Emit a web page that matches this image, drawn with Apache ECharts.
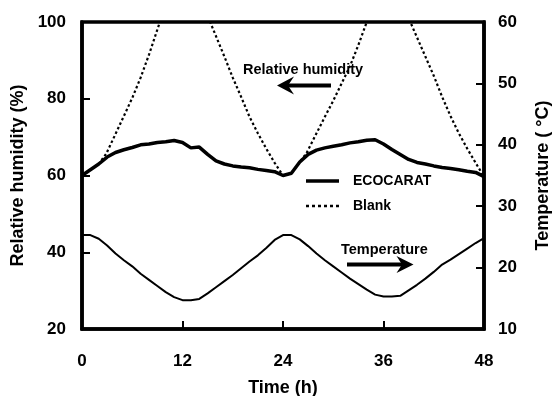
<!DOCTYPE html>
<html>
<head>
<meta charset="utf-8">
<script src="https://cdn.jsdelivr.net/npm/echarts@6/dist/echarts.min.js"></script>
<style>
html,body{margin:0;padding:0;background:#fff;}
#chart{width:556px;height:396px;}
</style>
</head>
<body>
<div id="chart"></div>
<script>
// Time axis (hours) for ECOCARAT RH and temperature
var hours = [0,1,2,3,4,5,6,7,8,9,10,11,12,13,14,15,16,17,18,19,20,21,22,23,24,25,26,27,28,29,30,31,32,33,34,35,36,37,38,39,40,41,42,43,44,45,46,47,48];
// Relative humidity (%) with ECOCARAT
var ecoRH = [60,61.5,63,64.8,66,66.7,67.3,68,68.2,68.6,68.8,69.1,68.6,67.2,67.4,65.5,63.8,63,62.5,62.2,62,61.6,61.3,61,60,60.6,63.5,65.5,66.6,67.2,67.6,68,68.5,68.8,69.2,69.3,68.2,66.8,65.5,64.2,63.4,63,62.5,62.1,61.8,61.5,61.1,60.8,59.7];
// Temperature (°C)
var tempC = [25.3,25.3,24.7,23.6,22.3,21.2,20.2,19,18,17,16,15.2,14.7,14.7,14.9,15.8,16.8,17.8,18.8,19.9,21,22,23.2,24.5,25.3,25.3,24.6,23.5,22.3,21.2,20.2,19.2,18.2,17.3,16.4,15.6,15.3,15.3,15.4,16.3,17.2,18.2,19.3,20.5,21.3,22.2,23.1,24,24.8];
// Blank relative humidity (%)
var blankHours = [0,1,2,2.9,4,5,6,7,8,9.3,15.3,16,17,18,19,20,21,22,23,24,25,26,26.8,28,29,30,31,32,33,34,39.2,40,41,42,43,44,45,46,47,48];
var blankRH = [60,61.5,63,65.7,70.8,75.5,80.2,85.5,91.5,100,100,96.3,91,85.5,80.5,75.3,71,67,63.3,60,60.6,63.5,65.8,71,75.3,79.5,84,88.5,94,100,100,96,91,86,80.5,75.5,71,67,63.3,59.7];
var legendNames = ['ECOCARAT','Blank'];

var FONT = '"Liberation Sans", Arial, sans-serif';
function pairs(xs, ys){ return xs.map(function(x,i){ return [x, ys[i]]; }); }

var chart = echarts.init(document.getElementById('chart'), null, {renderer:'canvas'});
var axisLine = {show:true, lineStyle:{color:'#000', width:3.5}};
var tick = {show:true, inside:true, length:8, lineStyle:{color:'#000', width:2}};
var lbl = {color:'#000', fontSize:17, fontWeight:'bold', fontFamily:FONT};
var nameStyle = {color:'#000', fontSize:18, fontWeight:'bold', fontFamily:FONT};
var ecoLine = {color:'#000', width:3.5};
var blankLine = {color:'#000', width:2.2, type:[2.5,2.5]};

chart.setOption({
  animation:false,
  backgroundColor:'#fff',
  grid:{left:82, right:72, top:22, bottom:67, containLabel:false, outerBoundsMode:'none',
        show:true, borderColor:'#000', borderWidth:3.5, backgroundColor:'transparent'},
  xAxis:{type:'value', min:0, max:48, interval:12, axisLine:axisLine, axisTick:tick,
    axisLabel:Object.assign({margin:24}, lbl), splitLine:{show:false},
    name:'Time (h)', nameLocation:'middle', nameGap:50, nameTextStyle:nameStyle},
  yAxis:[
    {type:'value', min:20, max:100, interval:20, position:'left', axisLine:axisLine, axisTick:tick,
     axisLabel:Object.assign({margin:16}, lbl), splitLine:{show:false},
     name:'Relative humidity (%)', nameLocation:'middle', nameGap:47, nameRotate:90, nameTextStyle:nameStyle},
    {type:'value', min:10, max:60, interval:10, position:'right', axisLine:axisLine, axisTick:tick,
     axisLabel:Object.assign({margin:14}, lbl), splitLine:{show:false},
     name:'Temperature ( \u00B0C)', nameLocation:'middle', nameGap:50, nameRotate:90, nameTextStyle:nameStyle}
  ],
  series:[
    {name:legendNames[1], type:'line', yAxisIndex:0, data:pairs(blankHours, blankRH), showSymbol:false, symbol:'none',
     lineStyle:blankLine, z:2},
    {name:legendNames[0], type:'line', yAxisIndex:0, data:pairs(hours, ecoRH), showSymbol:false, symbol:'none',
     lineStyle:ecoLine, z:3},
    {name:'Temperature', type:'line', yAxisIndex:1, data:pairs(hours, tempC), showSymbol:false, symbol:'none',
     lineStyle:{color:'#000', width:2}, z:3}
  ],
  graphic:[
    // legend
    {type:'line', shape:{x1:306, y1:181, x2:339, y2:181}, style:{stroke:'#000', lineWidth:3.5}},
    {type:'text', x:353, y:181, style:{text:legendNames[0], fill:'#000', fontSize:14, fontWeight:'bold', fontFamily:FONT, verticalAlign:'middle'}},
    {type:'line', shape:{x1:306, y1:206, x2:340, y2:206}, style:{stroke:'#000', lineWidth:2.5, lineDash:[3,3]}},
    {type:'text', x:353, y:206, style:{text:legendNames[1], fill:'#000', fontSize:14, fontWeight:'bold', fontFamily:FONT, verticalAlign:'middle'}},
    // annotations
    {type:'text', x:243, y:70, style:{text:'Relative humidity', fill:'#000', fontSize:14.5, fontWeight:'bold', fontFamily:FONT, verticalAlign:'middle'}},
    {type:'line', shape:{x1:287, y1:85.5, x2:331, y2:85.5}, style:{stroke:'#000', lineWidth:4}},
    {type:'polygon', shape:{points:[[277,85.5],[294,76.5],[288,85.5],[294,94.5]]}, style:{fill:'#000'}},
    {type:'text', x:341, y:250, style:{text:'Temperature', fill:'#000', fontSize:14.5, fontWeight:'bold', fontFamily:FONT, verticalAlign:'middle'}},
    {type:'line', shape:{x1:347, y1:264.5, x2:403, y2:264.5}, style:{stroke:'#000', lineWidth:4}},
    {type:'polygon', shape:{points:[[413.5,264.5],[396.5,256],[402,264.5],[396.5,273]]}, style:{fill:'#000'}}
  ]
});
</script>
</body>
</html>
